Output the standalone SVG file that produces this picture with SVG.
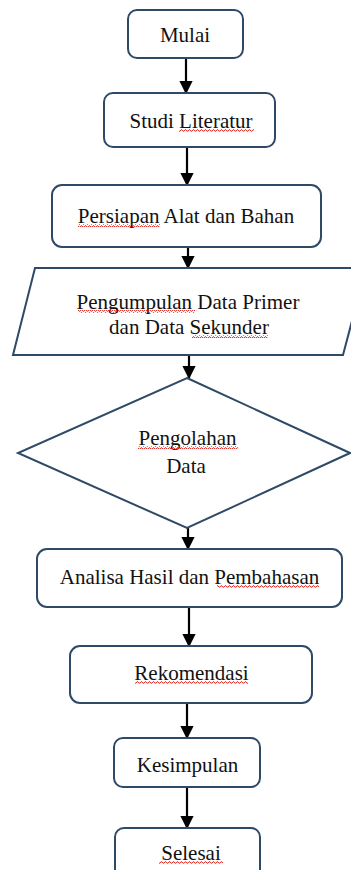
<svg xmlns="http://www.w3.org/2000/svg" width="351" height="870" viewBox="0 0 351 870">
  <style>
    .box { fill: #ffffff; stroke: #2f4a66; stroke-width: 2; }
    .lbl { font-family: 'Liberation Serif', 'DejaVu Serif', 'Times New Roman', Times, serif; font-size: 21px; fill: #111111; text-anchor: middle; }
    .flow { stroke: #000000; stroke-width: 2.2; fill: none; }
    .wave { fill: url(#squiggle); }
  </style>
  <defs>
    <marker id="head" viewBox="0 0 10 10" refX="9" refY="5" markerWidth="6" markerHeight="6" markerUnits="strokeWidth" orient="auto">
      <path d="M0 0 L10 5 L0 10 Z" fill="#000000"/>
    </marker>
    <pattern id="squiggle" width="4" height="3" patternUnits="userSpaceOnUse">
      <path d="M0 2.2 L1 0.8 L2 0.8 L3 2.2 L4 2.2" fill="none" stroke="#e0201c" stroke-width="0.9"/>
    </pattern>
  </defs>

  <!-- connectors -->
  <g id="connectors">
    <line class="flow" x1="186" y1="58" x2="186" y2="93" marker-end="url(#head)"/>
    <line class="flow" x1="187" y1="147" x2="187" y2="185" marker-end="url(#head)"/>
    <line class="flow" x1="188" y1="247" x2="188" y2="268" marker-end="url(#head)"/>
    <line class="flow" x1="189" y1="355" x2="189" y2="378" marker-end="url(#head)"/>
    <line class="flow" x1="188" y1="528" x2="188" y2="549" marker-end="url(#head)"/>
    <line class="flow" x1="189" y1="607" x2="189" y2="646" marker-end="url(#head)"/>
    <line class="flow" x1="187" y1="703" x2="187" y2="738" marker-end="url(#head)"/>
    <line class="flow" x1="187" y1="787" x2="187" y2="828" marker-end="url(#head)"/>
  </g>

  <g id="mulai">
    <rect class="box" x="128" y="10" width="115" height="48" rx="9"/>
    <text class="lbl" x="185" y="42" font-family="Liberation Serif">Mulai</text>
  </g>

  <g id="studi-literatur">
    <rect class="box" x="104" y="93" width="171" height="54" rx="9"/>
    <text class="lbl" x="191" y="128">Studi Literatur</text>
    <rect class="wave" x="179" y="129" width="75" height="3"/>
  </g>

  <g id="persiapan">
    <rect class="box" x="52" y="185" width="269" height="62" rx="10"/>
    <text class="lbl" x="186" y="223">Persiapan Alat dan Bahan</text>
    <rect class="wave" x="78" y="224" width="82" height="3"/>
  </g>

  <g id="pengumpulan-data">
    <polygon class="box" points="35,268 366,268 343,355 13,355"/>
    <text class="lbl" x="188" y="309">Pengumpulan Data Primer</text>
    <text class="lbl" x="189" y="334">dan Data Sekunder</text>
    <rect class="wave" x="78" y="310" width="117" height="3"/>
    <rect class="wave" x="192" y="335" width="76" height="3"/>
  </g>

  <g id="pengolahan-data">
    <polygon class="box" points="187,378 350,453 187,528 18,453"/>
    <text class="lbl" x="187.5" y="445">Pengolahan</text>
    <text class="lbl" x="186" y="473">Data</text>
    <rect class="wave" x="138" y="446" width="100" height="3"/>
  </g>

  <g id="analisa">
    <rect class="box" x="37" y="549" width="305" height="58" rx="10"/>
    <text class="lbl" x="189.5" y="584">Analisa Hasil dan Pembahasan</text>
    <rect class="wave" x="217" y="585" width="102" height="3"/>
  </g>

  <g id="rekomendasi">
    <rect class="box" x="70" y="646" width="242" height="57" rx="10"/>
    <text class="lbl" x="191.5" y="680">Rekomendasi</text>
    <rect class="wave" x="135" y="681" width="113" height="3"/>
  </g>

  <g id="kesimpulan">
    <rect class="box" x="114" y="738" width="146" height="49" rx="9"/>
    <text class="lbl" x="187.5" y="772">Kesimpulan</text>
  </g>

  <g id="selesai">
    <rect class="box" x="115" y="828" width="145" height="60" rx="9"/>
    <text class="lbl" x="191" y="860">Selesai</text>
    <rect class="wave" x="159" y="861" width="64" height="3"/>
  </g>
</svg>
